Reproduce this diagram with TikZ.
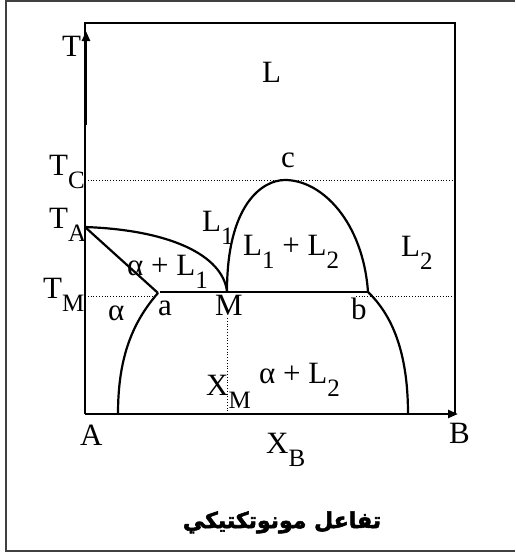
\documentclass[tikz,border=0pt]{standalone}
\usepackage{fontspec}
\setmainfont{Liberation Serif}
\newfontfamily\arabicfont[Script=Arabic, FakeBold=2.5]{DejaVu Sans}
\TeXXeTstate=1
\usetikzlibrary{arrows.meta}
\newcommand{\sbs}[1]{\raisebox{-13pt}{\fontsize{25}{25}\selectfont #1}}

\begin{document}
\begin{tikzpicture}[
  x=1pt, y=-1pt,
  frame/.style={line width=1.3pt},
  axis/.style={line width=2.4pt, -{Triangle[length=10pt,width=8pt]}},
  phase/.style={line width=2.2pt},
  guide/.style={dotted, line width=0.8pt},
  lbl/.style={font=\fontsize{31}{31}\selectfont, inner sep=0pt, anchor=base west},
]
  \useasboundingbox (0,0) rectangle (515,554);

  %% Outer frame and diagram box
  \draw[black!75, line width=1.6pt] (515,1) -- (6,1) -- (6,551) -- (515,551);
  \draw[frame] (85,414) -- (85,23) -- (455,23) -- (455,414);

  %% Key points
  \coordinate (TA) at (85,227);
  \coordinate (a) at (158,293);
  \coordinate (M) at (227,291);
  \coordinate (c) at (285,180);
  \coordinate (b) at (368,292);
  \coordinate (xa) at (118,414);
  \coordinate (xb) at (408,414);

  %% Axes
  \draw[axis] (86,125) -- (86,31);
  \draw[axis] (85,414) -- (458,414);

  %% Guide lines
  \draw[guide] (85,180) -- (455,180);
  \draw[guide] (85,296) -- (155,296);
  \draw[guide] (356,296) -- (455,296);
  \draw[guide] (227,318) -- (227,414);

  %% Phase boundaries
  \draw[phase] (TA) .. controls (170,230) and (222,255) .. (M);
  \draw[phase] (TA) -- (a);
  \draw[phase] (M) .. controls (227,205) and (262,180) .. (c)
               .. controls (322,180) and (363,222) .. (b);
  \draw[phase] (160,292) -- (b);
  \draw[phase] (a) .. controls (130,325) and (118,362) .. (xa);
  \draw[phase] (b) .. controls (392,315) and (408,352) .. (xb);

  %% Labels
  \node[lbl] (lT) at (62,56) {T};
  \node[lbl] (lL) at (262,82) {L};
  \node[lbl] (lTC) at (49,175) {T\sbs{C}};
  \node[lbl] (lc) at (281,167) {c};
  \node[lbl] (lTA) at (49,228) {T\sbs{A}};
  \node[lbl] (lL1) at (202,231) {L\sbs{1}};
  \node[lbl] (lLL) at (243,255) {L\sbs{1} + L\sbs{2}};
  \node[lbl] (lL2) at (401,256) {L\sbs{2}};
  \node[lbl] (laL1) at (127,275) {α + L\sbs{1}};
  \node[lbl] (lTM) at (43,298) {T\sbs{M}};
  \node[lbl] (lal) at (108,320) {α};
  \node[lbl] (la) at (158,315) {a};
  \node[lbl] (lM) at (215,315) {M};
  \node[lbl] (lb) at (351,319) {b};
  \node[lbl] (lXM) at (206,395) {X\sbs{M}};
  \node[lbl] (laL2) at (259,383) {α + L\sbs{2}};
  \node[lbl] (lA) at (80,445) {A};
  \node[lbl] (lB) at (449,443) {B};
  \node[lbl] (lXB) at (266,453) {X\sbs{B}};

  %% Title
  \node[font=\arabicfont\bfseries\fontsize{22}{22}\selectfont, inner sep=0pt, anchor=base]
    (title) at (282,528) {\beginR تفاعل مونوتكتيكي\endR};
\end{tikzpicture}
\end{document}
